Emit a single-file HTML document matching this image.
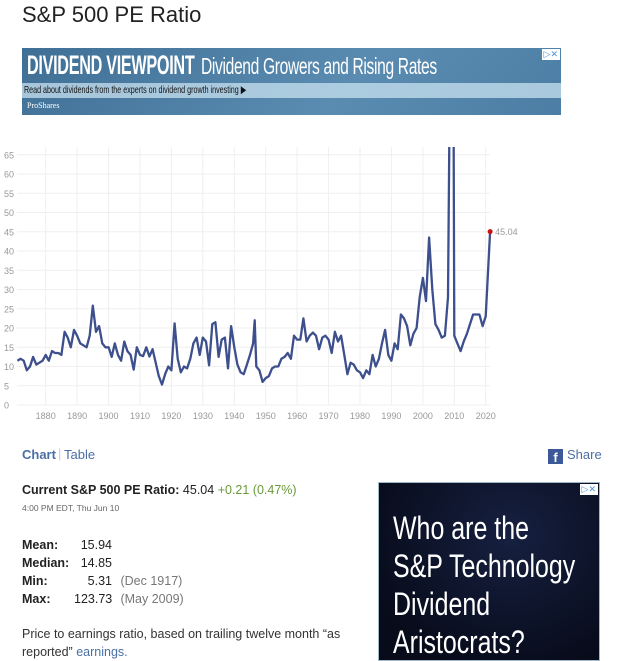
<!DOCTYPE html>
<html><head><meta charset="utf-8">
<style>
body{margin:0;width:640px;height:661px;overflow:hidden;background:#fff;font-family:"Liberation Sans",sans-serif;position:relative}
.a{position:absolute;white-space:nowrap}
</style></head><body>
<div class="a" style="left:22px;top:2px;font-size:22px;color:#222">S&amp;P 500 PE Ratio</div>
<div class="a" style="left:22px;top:48px;width:539px;height:67px;background:linear-gradient(135deg,#3f6f95,#5a8bb0 60%,#4c7ea5);overflow:hidden">
  <div class="a" style="left:5px;top:2px;font-size:27px;font-weight:bold;color:#fff;letter-spacing:-0.5px;transform:scaleX(0.6);transform-origin:0 0">DIVIDEND VIEWPOINT <span style="font-weight:normal;font-size:23px;display:inline-block;transform:scaleX(1.13);transform-origin:0 0;margin-left:4px">Dividend Growers and Rising Rates</span></div>
  <div class="a" style="left:0;top:35px;width:539px;height:15px;background:rgba(200,225,240,.75);"></div>
  <div class="a" style="left:2px;top:35px;font-size:10.5px;line-height:15px;color:#111;transform:scaleX(0.68);transform-origin:0 0">Read about dividends from the experts on dividend growth investing ▶</div>
  <div class="a" style="left:5px;top:53px;font-size:8px;color:#fff;font-family:'Liberation Serif',serif">ProShares</div>
  <div class="a" style="right:1px;top:1px;font-size:9px;color:#4a90d9;background:#fff;padding:0 2px">▷✕</div>
</div>
<svg class="a" id="chart" style="left:0;top:140px" width="640" height="290"></svg>
<div class="a" style="left:22px;top:447px;font-size:13px;font-weight:bold;color:#4a6fa5">Chart</div>
<div class="a" style="left:58px;top:446px;font-size:13px;color:#ccc">|</div>
<div class="a" style="left:64px;top:447px;font-size:13px;color:#4a6fa5">Table</div>
<div class="a" style="left:548px;top:447px;font-size:13px;color:#4a6fa5"><span style="display:inline-block;width:15px;height:15px;background:#3b5998;color:#fff;font-weight:bold;text-align:center;line-height:17px;vertical-align:-3px;margin-right:4px">f</span>Share</div>
<div class="a" style="left:22px;top:483px;font-size:12.5px;color:#222"><b>Current S&amp;P 500 PE Ratio:</b> 45.04 <span style="color:#6a9a3a">+0.21 (0.47%)</span></div>
<div class="a" style="left:22px;top:503px;font-size:8.5px;color:#666">4:00 PM EDT, Thu Jun 10</div>
<div class="a" style="left:22px;top:536px;font-size:12.5px;color:#222;line-height:18px">
<div><b style="display:inline-block;width:52px">Mean:</b><span style="display:inline-block;width:38px;text-align:right">15.94</span></div>
<div><b style="display:inline-block;width:52px">Median:</b><span style="display:inline-block;width:38px;text-align:right">14.85</span></div>
<div><b style="display:inline-block;width:52px">Min:</b><span style="display:inline-block;width:38px;text-align:right">5.31</span> <span style="color:#777;margin-left:5px">(Dec 1917)</span></div>
<div><b style="display:inline-block;width:52px">Max:</b><span style="display:inline-block;width:38px;text-align:right">123.73</span> <span style="color:#777;margin-left:5px">(May 2009)</span></div>
</div>
<div class="a" style="left:22px;top:625px;font-size:12.5px;color:#333;line-height:18px">Price to earnings ratio, based on trailing twelve month “as<br>reported” <span style="color:#4a6fa5">earnings.</span></div>
<div class="a" style="left:378px;top:482px;width:222px;height:179px;background:radial-gradient(ellipse at 60% 30%,#162040,#070b1a 80%);border:1px solid #a0b8c8;box-sizing:border-box;overflow:hidden">
  <div class="a" style="right:1px;top:1px;font-size:9px;color:#4a90d9;background:#fff;padding:0 2px">▷✕</div>
  <div class="a" style="left:14px;top:26px;font-size:32px;line-height:38px;color:#fff;transform:scaleX(0.78);transform-origin:0 0">Who are the<br>S&amp;P Technology<br>Dividend<br>Aristocrats?</div>
</div>
<script>
const years=[1871,1872,1873,1874,1875,1876,1877,1878,1879,1880,1881,1882,1883,1884,1885,1886,1887,1888,1889,1890,1891,1892,1893,1894,1895,1896,1897,1898,1899,1900,1901,1902,1903,1904,1905,1906,1907,1908,1909,1910,1911,1912,1913,1914,1915,1916,1917,1918,1919,1920,1921,1922,1923,1924,1925,1926,1927,1928,1929,1930,1931,1932,1933,1934,1935,1936,1937,1938,1939,1940,1941,1942,1943,1944,1945,1946,1946.5,1947,1948,1949,1950,1951,1952,1953,1954,1955,1956,1957,1958,1959,1960,1961,1962,1963,1964,1965,1966,1967,1968,1969,1970,1971,1972,1973,1974,1975,1976,1977,1978,1979,1980,1981,1982,1983,1984,1985,1986,1987,1988,1989,1990,1991,1992,1993,1994,1995,1996,1997,1998,1999,2000,2001,2002,2003,2004,2005,2006,2007,2008,2009,2009.6,2010,2011,2012,2013,2014,2015,2016,2017,2018,2019,2020,2021.4];
const pe=[11.5,12,11.5,9,10,12.5,10.5,11,11.5,13,11.5,14,13.5,13.5,13,19,17.5,15,19.5,18,16,15.5,15,18,25.8,19,20.5,16,15,15,12.5,16,13,11.5,16.5,14,13,9.2,15,13,12.7,15,12.6,14.5,11,7.5,5.3,8,10,9,21.2,12,8.5,10,9.5,12,16,17.5,13,17.5,16.5,10.3,21,21.5,12.5,17,17.5,9.5,20.5,15,10.5,8.5,8,10.5,13,16,22,10,9,6,7,7.5,9.5,10,10,12,12.5,13.5,12,18,17,17,22.5,16.5,18,18.8,18,14.5,17.5,18,17,13.5,19,16.5,18,13,8,11,10.5,9,8.5,7,9,8,13,10,12,16,19.5,13,11.5,16,14.5,23.5,22.5,20.5,15.5,18.5,20,28,33,27,43.5,30,21,19.5,17.5,18,28,123.73,120,18,16,14,16.5,18.5,21,23.5,23.5,23.5,20.5,23,45.04];
const yTicks=[0,5,10,15,20,25,30,35,40,45,50,55,60,65];
const xTicks=[1880,1890,1900,1910,1920,1930,1940,1950,1960,1970,1980,1990,2000,2010,2020];
const NS='http://www.w3.org/2000/svg';
const svg=document.getElementById('chart');
const X=y=>45.7+(y-1880)*3.143;
const Y=v=>265-v*3.85;
function mk(t,a){const e=document.createElementNS(NS,t);for(const k in a)e.setAttribute(k,a[k]);svg.appendChild(e);return e;}
const defs=mk('defs',{});
const cp=document.createElementNS(NS,'clipPath');cp.setAttribute('id','cp');defs.appendChild(cp);
const r=document.createElementNS(NS,'rect');r.setAttribute('x',0);r.setAttribute('y',7);r.setAttribute('width',640);r.setAttribute('height',270);cp.appendChild(r);
yTicks.forEach(v=>{
  const l=mk('line',{x1:17,x2:490,y1:Y(v),y2:Y(v),stroke:'#efefef','stroke-width':1});
  
  
  const t=mk('text',{x:4,y:Y(v)+3.5,'font-size':9,fill:'#999','font-family':'Liberation Sans'});
  
  
  t.textContent=v;
});
xTicks.forEach(v=>{
  const l=mk('line',{x1:X(v),x2:X(v),y1:7,y2:Y(0),stroke:'#efefef','stroke-width':1});
  
  
  const t=mk('text',{x:X(v),y:Y(0)+14,'font-size':9,fill:'#999','text-anchor':'middle','font-family':'Liberation Sans'});
  
  
  t.textContent=v;
});
const d=years.map((y,i)=>(i?'L':'M')+X(y).toFixed(1)+','+Y(pe[i]).toFixed(1)).join('');
const p=mk('path',{d:d,fill:'none',stroke:'#3d4f8c','stroke-width':2.3,'stroke-linejoin':'round','clip-path':'url(#cp)'});


const li=years.length-1;
const c=mk('circle',{cx:X(years[li]),cy:Y(pe[li]),r:2.5,fill:'#cc1111'});


const lt=mk('text',{x:X(years[li])+5,y:Y(pe[li])+3.5,'font-size':9,fill:'#999','font-family':'Liberation Sans'});


lt.textContent=pe[li].toFixed(2);
</script>
</body></html>
